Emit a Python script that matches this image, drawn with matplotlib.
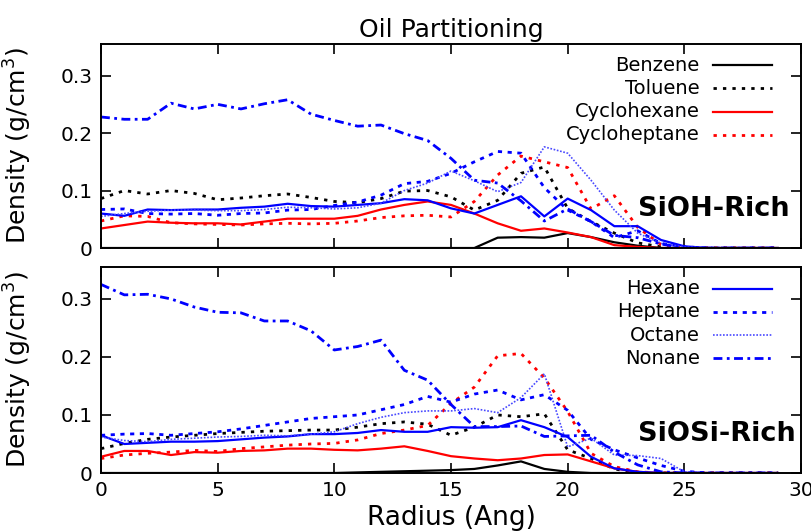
import matplotlib
matplotlib.use("Agg")
import matplotlib.pyplot as plt
import numpy as np

radius = np.arange(30)

# ---- SiOH-rich surface ----
sioh_benzene = [0, 0, 0, 0, 0, 0, 0, 0, 0, 0, 0, 0, 0, 0, 0, 0, 0.0, 0.018, 0.019, 0.018,
                0.026, 0.019, 0.010, 0.004, 0, 0, 0, 0, 0, 0]
sioh_toluene = [0.086, 0.100, 0.094, 0.100, 0.095, 0.084, 0.087, 0.091, 0.094, 0.088,
                0.081, 0.079, 0.086, 0.099, 0.100, 0.089, 0.066, 0.083, 0.130, 0.141,
                0.069, 0.046, 0.026, 0.009, 0.002, 0, 0, 0, 0, 0]
sioh_cyclohexane = [0.034, 0.040, 0.046, 0.044, 0.043, 0.043, 0.041, 0.046, 0.051, 0.051,
                    0.051, 0.056, 0.067, 0.075, 0.081, 0.075, 0.060, 0.043, 0.030, 0.034,
                    0.027, 0.019, 0.005, 0.002, 0, 0, 0, 0, 0, 0]
sioh_cycloheptane = [0.047, 0.056, 0.055, 0.044, 0.042, 0.041, 0.040, 0.042, 0.043, 0.042,
                     0.043, 0.047, 0.053, 0.056, 0.057, 0.054, 0.081, 0.127, 0.160, 0.150,
                     0.140, 0.068, 0.091, 0.036, 0.006, 0.001, 0, 0, 0, 0]
sioh_hexane = [0.060, 0.056, 0.067, 0.066, 0.067, 0.067, 0.070, 0.072, 0.077, 0.073,
               0.072, 0.075, 0.078, 0.085, 0.083, 0.069, 0.060, 0.075, 0.090, 0.055,
               0.086, 0.066, 0.038, 0.038, 0.014, 0.003, 0, 0, 0, 0]
sioh_heptane = [0.067, 0.068, 0.060, 0.059, 0.060, 0.057, 0.060, 0.061, 0.066, 0.067,
                0.074, 0.080, 0.092, 0.112, 0.116, 0.130, 0.150, 0.168, 0.165, 0.105,
                0.066, 0.046, 0.018, 0.030, 0.008, 0.002, 0, 0, 0, 0]
sioh_octane = [0.055, 0.060, 0.064, 0.066, 0.066, 0.065, 0.065, 0.067, 0.071, 0.070,
               0.068, 0.070, 0.078, 0.100, 0.113, 0.134, 0.117, 0.098, 0.114, 0.176,
               0.165, 0.118, 0.066, 0.026, 0.008, 0.002, 0, 0, 0, 0]
sioh_nonane = [0.228, 0.224, 0.224, 0.252, 0.242, 0.250, 0.242, 0.251, 0.258, 0.233,
               0.222, 0.212, 0.214, 0.199, 0.187, 0.156, 0.118, 0.113, 0.082, 0.047,
               0.068, 0.046, 0.022, 0.018, 0.007, 0, 0, 0, 0, 0]

# ---- SiOSi-rich surface ----
siosi_benzene = [0, 0, 0, 0, 0, 0, 0, 0, 0, 0, 0, 0.001, 0.002, 0.003, 0.004, 0.005,
                 0.007, 0.013, 0.020, 0.007, 0.002, 0, 0, 0, 0, 0, 0, 0, 0, 0]
siosi_toluene = [0.042, 0.051, 0.058, 0.062, 0.065, 0.068, 0.070, 0.072, 0.073, 0.074,
                 0.074, 0.079, 0.085, 0.088, 0.084, 0.065, 0.079, 0.100, 0.097, 0.102,
                 0.040, 0.025, 0.007, 0, 0, 0, 0, 0, 0, 0]
siosi_cyclohexane = [0.028, 0.038, 0.038, 0.031, 0.036, 0.035, 0.038, 0.039, 0.042, 0.042,
                     0.040, 0.039, 0.042, 0.046, 0.038, 0.029, 0.025, 0.022, 0.025, 0.031,
                     0.032, 0.020, 0.008, 0.002, 0, 0, 0, 0, 0, 0]
siosi_cycloheptane = [0.025, 0.031, 0.034, 0.036, 0.039, 0.037, 0.042, 0.045, 0.048, 0.050,
                      0.051, 0.057, 0.068, 0.074, 0.082, 0.120, 0.148, 0.202, 0.206, 0.164,
                      0.106, 0.034, 0.011, 0.002, 0, 0, 0, 0, 0, 0]
siosi_hexane = [0.065, 0.050, 0.052, 0.054, 0.054, 0.055, 0.058, 0.061, 0.063, 0.067,
                0.067, 0.069, 0.074, 0.071, 0.071, 0.079, 0.078, 0.079, 0.091, 0.079,
                0.062, 0.028, 0.008, 0.002, 0, 0, 0, 0, 0, 0]
siosi_heptane = [0.065, 0.067, 0.068, 0.065, 0.068, 0.071, 0.076, 0.082, 0.088, 0.094,
                 0.097, 0.100, 0.109, 0.118, 0.132, 0.122, 0.136, 0.143, 0.126, 0.135,
                 0.108, 0.058, 0.040, 0.026, 0.013, 0.003, 0, 0, 0, 0]
siosi_octane = [0.062, 0.056, 0.054, 0.058, 0.060, 0.062, 0.063, 0.065, 0.064, 0.067,
                0.071, 0.085, 0.096, 0.104, 0.107, 0.107, 0.111, 0.104, 0.130, 0.171,
                0.045, 0.060, 0.031, 0.030, 0.025, 0.002, 0, 0, 0, 0]
siosi_nonane = [0.325, 0.307, 0.308, 0.300, 0.286, 0.277, 0.276, 0.262, 0.262, 0.245,
                0.212, 0.218, 0.229, 0.177, 0.160, 0.118, 0.080, 0.080, 0.081, 0.063,
                0.064, 0.065, 0.036, 0.014, 0.002, 0, 0, 0, 0, 0]

labels_top = ["Benzene", "Toluene", "Cyclohexane", "Cycloheptane"]
labels_bottom = ["Hexane", "Heptane", "Octane", "Nonane"]
surfaces = ["SiOH-Rich", "SiOSi-Rich"]

styles = {
    "Benzene": dict(color="black", lw=1.6, ls="-"),
    "Toluene": dict(color="black", lw=2.0, ls=(0, (1.2, 2.2))),
    "Cyclohexane": dict(color="#ff0000", lw=1.6, ls="-"),
    "Cycloheptane": dict(color="#ff0000", lw=2.0, ls=(0, (1.2, 2.2))),
    "Hexane": dict(color="#0000ff", lw=1.6, ls="-"),
    "Heptane": dict(color="#0000ff", lw=2.0, ls=(0, (1.5, 2.0))),
    "Octane": dict(color="#4848ff", lw=1.2, ls=(0, (1, 1))),
    "Nonane": dict(color="#0000ff", lw=2.0, ls=(0, (3.2, 1.6, 1.0, 1.6))),
}

panels = [
    {"Benzene": sioh_benzene, "Toluene": sioh_toluene, "Cyclohexane": sioh_cyclohexane,
     "Cycloheptane": sioh_cycloheptane, "Hexane": sioh_hexane, "Heptane": sioh_heptane,
     "Octane": sioh_octane, "Nonane": sioh_nonane},
    {"Benzene": siosi_benzene, "Toluene": siosi_toluene, "Cyclohexane": siosi_cyclohexane,
     "Cycloheptane": siosi_cycloheptane, "Hexane": siosi_hexane, "Heptane": siosi_heptane,
     "Octane": siosi_octane, "Nonane": siosi_nonane},
]

plt.rcParams["font.family"] = ["DejaVu Sans"]

fig = plt.figure(figsize=(8.11, 5.32), dpi=100)
ax_top = fig.add_axes([0.1245, 0.5338, 0.8632, 0.3835])
ax_bot = fig.add_axes([0.1245, 0.1109, 0.8632, 0.3872])

draw_order = ["Benzene", "Toluene", "Cyclohexane", "Cycloheptane",
              "Hexane", "Heptane", "Octane", "Nonane"]

for ax, data, legend_labels, surface in zip(
        [ax_top, ax_bot], panels, [labels_top, labels_bottom], surfaces):
    for name in draw_order:
        ax.plot(radius, data[name], **styles[name])
    ax.set_xlim(0, 30)
    ax.set_ylim(0, 0.355)
    ax.set_xticks(np.arange(0, 31, 5))
    ax.set_yticks([0, 0.1, 0.2, 0.3])
    ax.set_yticklabels(["0", "0.1", "0.2", "0.3"])
    ax.tick_params(direction="in", length=7, width=1.2, top=True, right=True,
                   labelsize=14.5, pad=6)
    for sp in ax.spines.values():
        sp.set_linewidth(1.4)
    ax.set_ylabel("Density (g/cm$^3$)", fontsize=18)
    ax.yaxis.set_label_coords(-0.095, 0.5)

    # gnuplot-style key: right-aligned label followed by a line sample
    for i, name in enumerate(legend_labels):
        y = 0.895 - i * 0.113
        ax.text(0.855, y, name, transform=ax.transAxes, ha="right", va="center",
                fontsize=14)
        ax.plot([0.874, 0.958], [y, y], transform=ax.transAxes, **styles[name])

    ax.text(0.767, 0.19, surface, transform=ax.transAxes, ha="left", va="center",
            fontsize=19.5, fontweight="bold")

ax_top.tick_params(labelbottom=False)
ax_top.set_title("Oil Partitioning", fontsize=18, pad=5)
ax_bot.set_xlabel("Radius (Ang)", fontsize=19, labelpad=3)

fig.savefig("out.png", dpi=100)
